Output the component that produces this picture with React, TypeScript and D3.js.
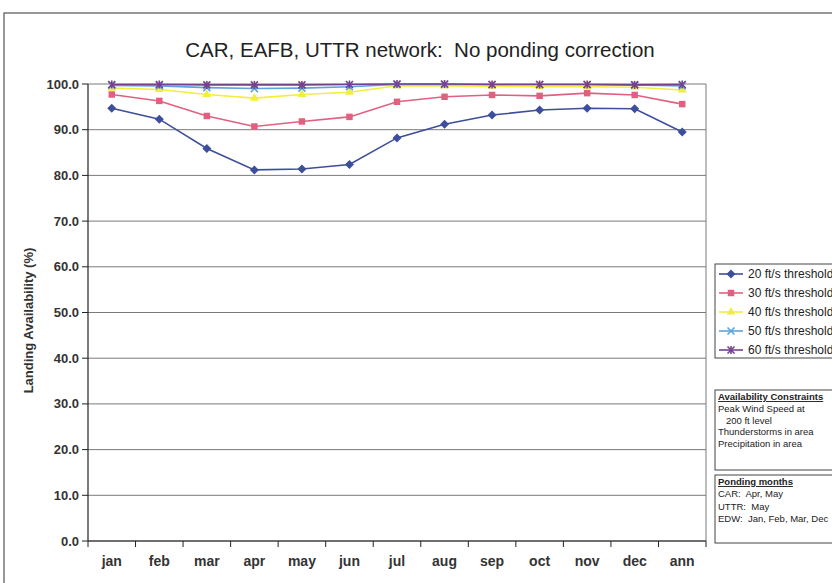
import * as React from "react";
import { scaleBand, scaleLinear, line, range, symbol, symbolSquare, symbolTriangle } from "d3";

const months = ["jan", "feb", "mar", "apr", "may", "jun", "jul", "aug", "sep", "oct", "nov", "dec", "ann"];
const yTicks = [0, 10, 20, 30, 40, 50, 60, 70, 80, 90, 100];

const thr20 = [94.7, 92.3, 85.9, 81.2, 81.4, 82.4, 88.2, 91.2, 93.2, 94.3, 94.7, 94.6, 89.5];
const thr30 = [97.7, 96.3, 93.0, 90.7, 91.8, 92.8, 96.1, 97.2, 97.6, 97.4, 98.0, 97.6, 95.6];
const thr40 = [99.1, 98.8, 97.7, 96.9, 97.7, 98.2, 99.6, 99.6, 99.5, 99.4, 99.4, 99.3, 98.7];
const thr50 = [99.7, 99.6, 99.2, 99.0, 99.1, 99.4, 99.9, 99.9, 99.9, 99.9, 99.9, 99.8, 99.6];
const thr60 = [99.9, 99.9, 99.8, 99.8, 99.8, 99.9, 100.0, 100.0, 99.9, 99.9, 99.9, 99.8, 99.9];

const seriesNames = ["20 ft/s threshold", "30 ft/s threshold", "40 ft/s threshold", "50 ft/s threshold", "60 ft/s threshold"];
const constraintLines = ["Peak Wind Speed at", "   200 ft level", "Thunderstorms in area", "Precipitation in area"];
const pondingLines = ["CAR:  Apr, May", "UTTR:  May", "EDW:  Jan, Feb, Mar, Dec"];

const series = [
  { name: seriesNames[0], values: thr20, color: "#3d4f9c", marker: "diamond" },
  { name: seriesNames[1], values: thr30, color: "#e2607f", marker: "square" },
  { name: seriesNames[2], values: thr40, color: "#f2ee3c", marker: "triangle" },
  { name: seriesNames[3], values: thr50, color: "#5ea4dc", marker: "x" },
  { name: seriesNames[4], values: thr60, color: "#77408c", marker: "star" },
];

const Marker = ({ kind, x, y, color }: { kind: string; x: number; y: number; color: string }) => {
  if (kind === "x" || kind === "star") {
    const s = 3.5;
    return (
      <g transform={`translate(${x},${y})`} stroke={color} strokeWidth={1.6}>
        <line x1={-s} y1={-s} x2={s} y2={s} />
        <line x1={-s} y1={s} x2={s} y2={-s} />
        {kind === "star" && <line x1={0} y1={-s - 0.5} x2={0} y2={s + 0.5} />}
      </g>
    );
  }
  if (kind === "diamond") {
    const r = 4.5;
    return <path d={`M0,${-r}L${r},0L0,${r}L${-r},0Z`} transform={`translate(${x},${y})`} fill={color} />;
  }
  const t = kind === "square" ? symbolSquare : symbolTriangle;
  const size = kind === "square" ? 42 : 34;
  return <path d={symbol(t, size)() || ""} transform={`translate(${x},${y})`} fill={color} />;
};

export default function App() {
  const W = 832;
  const H = 583;
  const left = 88;
  const right = 706;
  const top = 84;
  const bottom = 541;

  const x = scaleBand().domain(months).range([left, right]);
  const y = scaleLinear().domain([0, 100]).range([bottom, top]);
  const cx = (i: number) => (x(months[i]) as number) + x.bandwidth() / 2;

  const path = line<number>()
    .x((_, i) => cx(i))
    .y((d) => y(d));

  const font = "'Liberation Sans', Arial, sans-serif";
  const narrow = "'Liberation Sans Narrow', 'Liberation Sans', Arial, sans-serif";

  return (
    <div style={{ position: "absolute", left: 0, top: 0 }}>
      <svg width={W} height={H} style={{ display: "block", fontFamily: font }}>
        <rect width={W} height={H} fill="white" />
        <rect x={4} y={13} width={900} height={620} fill="none" stroke="#555" strokeWidth={1.2} />

        <text x={420} y={57} textAnchor="middle" fontSize={20.5} fill="#222" style={{ whiteSpace: "pre" }}>
          CAR, EAFB, UTTR network:  No ponding correction
        </text>

        {/* gridlines */}
        {yTicks.map((t) => (
          <line key={t} x1={left} x2={right} y1={y(t)} y2={y(t)} stroke="#7a7a7a" strokeWidth={1} />
        ))}
        <line x1={right} x2={right} y1={top} y2={bottom} stroke="#7a7a7a" strokeWidth={1} />

        {/* y axis */}
        <line x1={left} x2={left} y1={top} y2={bottom} stroke="#222" strokeWidth={1.2} />
        {yTicks.map((t) => (
          <g key={t}>
            <line x1={left - 6} x2={left} y1={y(t)} y2={y(t)} stroke="#222" />
            <text x={left - 9} y={y(t)} dy="0.35em" textAnchor="end" fontSize={13} fontWeight="bold" fill="#333">
              {t.toFixed(1)}
            </text>
          </g>
        ))}
        <text
          transform={`translate(33,${(top + bottom) / 2 + 8}) rotate(-90)`}
          textAnchor="middle"
          fontSize={13}
          fontWeight="bold"
          fill="#333"
        >
          Landing Availability (%)
        </text>

        {/* x axis */}
        <line x1={left} x2={right} y1={bottom} y2={bottom} stroke="#222" strokeWidth={1.2} />
        {range(months.length + 1).map((i) => {
          const xx = left + i * x.step();
          return <line key={i} x1={xx} x2={xx} y1={bottom} y2={bottom + 6} stroke="#222" />;
        })}
        {months.map((m, i) => (
          <text key={m} x={cx(i)} y={566} textAnchor="middle" fontSize={14} fontWeight="bold" fill="#333">
            {m}
          </text>
        ))}

        {/* series */}
        {series.map((s) => (
          <g key={s.name}>
            <path d={path(s.values) || ""} fill="none" stroke={s.color} strokeWidth={1.6} />
            {s.values.map((v, i) => (
              <Marker key={i} kind={s.marker} x={cx(i)} y={y(v)} color={s.color} />
            ))}
          </g>
        ))}

        {/* legend */}
        <rect x={715} y={264} width={130} height={94} fill="white" stroke="#444" strokeWidth={1} />
        {series.map((s, i) => {
          const ly = 274 + i * 19;
          return (
            <g key={s.name}>
              <line x1={719} x2={743} y1={ly} y2={ly} stroke={s.color} strokeWidth={1.6} />
              <Marker kind={s.marker} x={731} y={ly} color={s.color} />
              <text x={748} y={ly} dy="0.35em" fontSize={12} fill="#222">
                {s.name}
              </text>
            </g>
          );
        })}

        {/* constraints box */}
        <rect x={715} y={390} width={130} height={80} fill="white" stroke="#444" strokeWidth={1} />
        <text x={718} y={400} fontSize={9.5} fontWeight="bold" fill="#222" textDecoration="underline" fontFamily={narrow}>
          Availability Constraints
        </text>
        {constraintLines.map((t, i) => (
          <text key={i} x={718} y={412 + i * 11.5} fontSize={9.5} fill="#222" fontFamily={narrow} style={{ whiteSpace: "pre" }}>
            {t}
          </text>
        ))}

        {/* ponding box */}
        <rect x={715} y={475} width={130} height={68} fill="white" stroke="#444" strokeWidth={1} />
        <text x={718} y={485} fontSize={9.5} fontWeight="bold" fill="#222" textDecoration="underline" fontFamily={narrow}>
          Ponding months
        </text>
        {pondingLines.map((t, i) => (
          <text key={i} x={718} y={497 + i * 12.5} fontSize={9.5} fill="#222" fontFamily={narrow} style={{ whiteSpace: "pre" }}>
            {t}
          </text>
        ))}
      </svg>
    </div>
  );
}
